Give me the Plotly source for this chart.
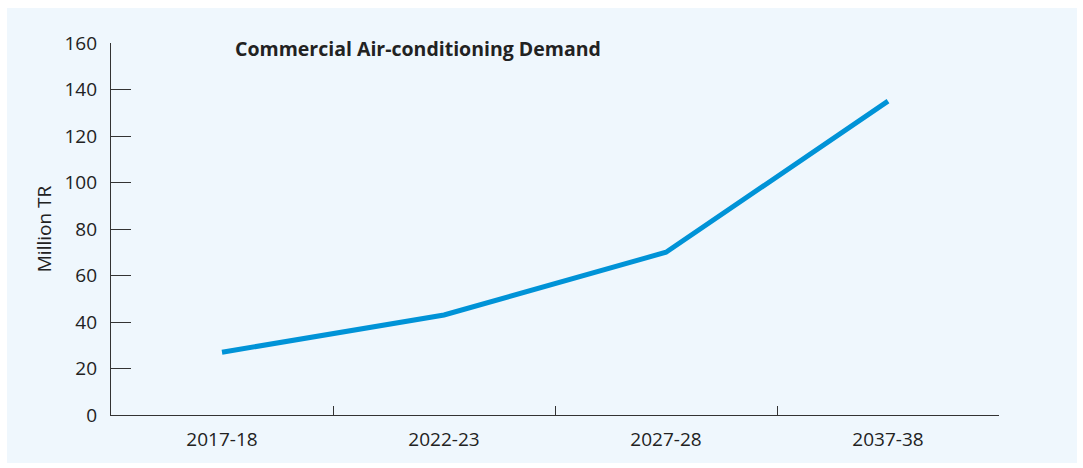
import plotly.graph_objects as go

years = ["2017-18", "2022-23", "2027-28", "2037-38"]
demand = [27, 43, 70, 135]
y_ticks = [0, 20, 40, 60, 80, 100, 120, 140, 160]

FONT = "Open Sans"
L, R, T, B = 111, 84, 43, 53
W, H = 1083, 468
pw, ph = W - L - R, H - T - B

def px_x(p):
    return (p - L) / pw

def px_y(p):
    return (H - B - p) / ph

fig = go.Figure()
fig.add_trace(go.Scatter(
    x=years, y=demand, mode="lines",
    line=dict(color="#0093D7", width=5),
    hoverinfo="x+y", showlegend=False,
))

fig.add_shape(type="rect", xref="paper", yref="paper",
              x0=px_x(7), x1=px_x(1077), y0=px_y(463), y1=px_y(8),
              fillcolor="#EFF7FD", line=dict(width=0), layer="below")

fig.add_annotation(text="<b>Commercial Air-conditioning Demand</b>",
                   xref="paper", yref="paper", x=px_x(233), y=px_y(49),
                   xanchor="left", yanchor="middle", showarrow=False,
                   font=dict(family=FONT, size=19.5, color="#222222"))

fig.update_layout(
    width=W, height=H,
    margin=dict(l=L, r=R, t=T, b=B),
    paper_bgcolor="white", plot_bgcolor="rgba(0,0,0,0)",
    font=dict(family=FONT, size=19, color="#222222"),
    xaxis=dict(type="category", range=[-0.5, 3.5], showline=True,
               linecolor="#333333", linewidth=1.3, ticks="inside",
               tickson="boundaries", ticklen=9, tickcolor="#333333",
               showgrid=False, zeroline=False, ticklabelstandoff=7),
    yaxis=dict(range=[0, 160], tickvals=y_ticks, showline=True,
               linecolor="#333333", linewidth=1.3, ticks="inside",
               ticklen=20, tickcolor="#333333", showgrid=False,
               zeroline=False, title=dict(text="Million TR", standoff=7,
               font=dict(size=19)), ticklabelstandoff=9),
)

fig.write_html("out.html", config={"displayModeBar": False},
               post_script="document.body.style.margin='0';document.body.style.overflow='hidden';")
